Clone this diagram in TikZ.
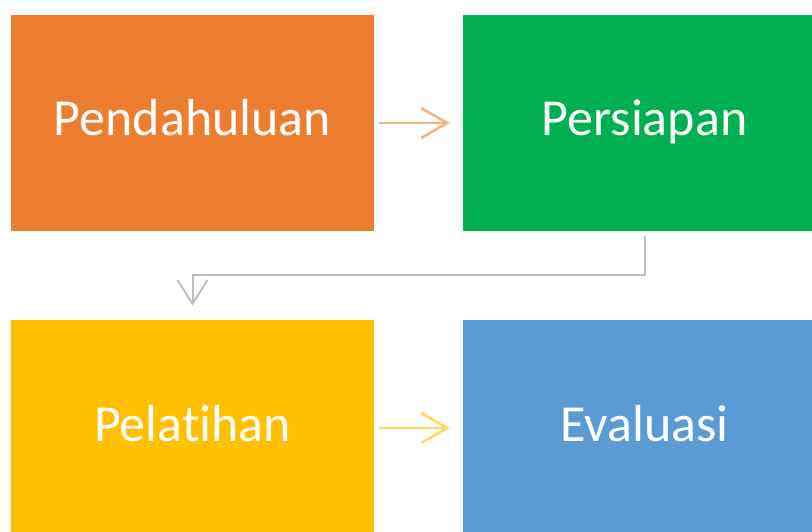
\documentclass[tikz,border=0pt]{standalone}
\usepackage{fontspec}
\setmainfont[Ligatures=NoCommon]{Carlito}
\usetikzlibrary{arrows.meta}
\definecolor{cOrange}{HTML}{ED7D31}
\definecolor{cGreen}{HTML}{00B050}
\definecolor{cYellow}{HTML}{FFC000}
\definecolor{cBlue}{HTML}{5B9BD5}
\definecolor{aOrange}{HTML}{F4B183}
\definecolor{aYellow}{HTML}{FFD966}
\definecolor{aGray}{HTML}{BFBFBF}
\begin{document}
\begin{tikzpicture}[x=1pt,y=1pt,
  box/.style={minimum width=363pt,minimum height=216pt,inner sep=0pt,text=white,
    text height=37pt,text depth=11pt,
    font=\fontsize{52}{62}\selectfont},
  flow/.style={line width=2.6pt,-{Straight Barb[length=26pt,width=30pt]}}]
\useasboundingbox (0,0) rectangle (812,531);
\clip (0,0) rectangle (812,531);
\node[box,fill=cOrange] (pend) at (192.5,408) {Pendahuluan};
\node[box,fill=cGreen] (pers) at (644.5,408) {Persiapan};
\node[box,fill=cYellow] (pel) at (192.5,103) {Pelatihan};
\node[box,fill=cBlue] (eval) at (644.5,103) {Evaluasi};
\draw[flow,aOrange,shorten <=5pt,shorten >=13pt] (pend.east) -- (pers.west);
\draw[flow,aYellow,shorten <=5pt,shorten >=13pt] (pel.east) -- (eval.west);
\draw[aGray,line width=2pt,-{Straight Barb[length=24pt,width=30pt]}]
  ([yshift=-5pt]pers.south) -- ++(0,-39pt) -| ([yshift=14pt]pel.north);
\end{tikzpicture}
\end{document}
